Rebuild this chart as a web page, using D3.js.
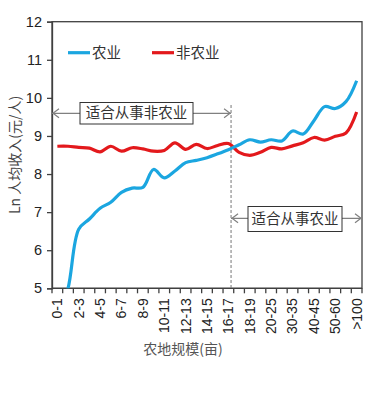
<!DOCTYPE html>
<html><head><meta charset="utf-8">
<script src="https://cdn.jsdelivr.net/npm/d3@7"></script>
<style>html,body{margin:0;padding:0;background:#fff}</style>
</head><body>
<svg id="c" width="383" height="396"></svg>
<script>
const categories = ["0-1","1-2","2-3","3-4","4-5","5-6","6-7","7-8","8-9","9-10","10-11","11-12","12-13","13-14","14-15","15-16","16-17","17-18","18-19","19-20","20-25","25-30","30-35","35-40","40-45","45-50","50-60","60-100",">100"];
const tickLabels = ["0-1","2-3","4-5","6-7","8-9","10-11","12-13","14-15","16-17","18-19","20-25","30-35","40-45","50-60",">100"];
const agri =    [4.2,5.0,6.55,6.82,7.1,7.26,7.52,7.63,7.65,8.12,7.9,8.08,8.3,8.36,8.43,8.53,8.64,8.77,8.9,8.84,8.9,8.87,9.13,9.05,9.4,9.77,9.72,9.9,10.45];
const nonAgri = [8.73,8.73,8.7,8.68,8.58,8.73,8.6,8.69,8.66,8.6,8.62,8.82,8.65,8.78,8.67,8.75,8.8,8.57,8.49,8.57,8.7,8.66,8.74,8.82,8.96,8.89,8.99,9.08,9.63];
const yTicks = [5,6,7,8,9,10,11,12];
const seriesNames = ["农业","非农业"];

const svg = d3.select("#c");
const L=52, R=362, T=21.7, B=288.3;
const x = d3.scaleBand().domain(categories).range([L,R]).padding(0);
const y = d3.scaleLinear().domain([5,12]).range([B,T]);
const axisCol="#404040", font="'Liberation Sans', Arial, sans-serif", cjk="'Noto Sans CJK SC', sans-serif";

svg.append("clipPath").attr("id","clip").append("rect").attr("x",L).attr("y",T).attr("width",R-L).attr("height",B-T);

// frame
svg.append("rect").attr("x",L).attr("y",T).attr("width",R-L).attr("height",B-T).attr("fill","none").attr("stroke",axisCol).attr("stroke-width",1.3);

// y axis
const ya = svg.append("g").attr("transform",`translate(${L},0)`).call(d3.axisLeft(y).tickValues(yTicks).tickSize(5).tickPadding(5).tickFormat(d3.format("d")));
ya.select(".domain").attr("stroke",axisCol).attr("stroke-width",1.3);
ya.selectAll(".tick line").attr("stroke",axisCol).attr("stroke-width",1.3);
ya.selectAll(".tick text").attr("font-family",font).attr("font-size",14.5).attr("fill","#222");

// x axis: ticks at band boundaries
const xa = svg.append("g").attr("transform",`translate(0,${B})`);
xa.append("line").attr("x1",L).attr("x2",R).attr("stroke",axisCol).attr("stroke-width",1.3);
xa.selectAll("line.t").data(d3.range(categories.length+1)).join("line").attr("class","t")
  .attr("x1",i=>L+i*x.bandwidth()).attr("x2",i=>L+i*x.bandwidth()).attr("y1",0).attr("y2",5)
  .attr("stroke",axisCol).attr("stroke-width",1.3);
xa.selectAll("text").data(tickLabels).join("text")
  .attr("transform",d=>`translate(${x(d)+x.bandwidth()/2},10) rotate(-90)`)
  .attr("text-anchor","end").attr("dy","0.35em")
  .attr("font-family",font).attr("font-size",14).attr("fill","#222").text(d=>d);

// dashed divider
const divX = x("16-17")+x.bandwidth()*0.75;
svg.append("line").attr("x1",divX).attr("x2",divX).attr("y1",105).attr("y2",B)
  .attr("stroke","#777").attr("stroke-width",1).attr("stroke-dasharray","3,2");

// lines
const line = d3.line().x((d,i)=>x(categories[i])+x.bandwidth()/2).y(d=>y(d)).curve(d3.curveCatmullRom.alpha(0.5));
const g = svg.append("g").attr("clip-path","url(#clip)");
g.append("path").datum(nonAgri).attr("d",line).attr("fill","none").attr("stroke","#E3191C").attr("stroke-width",3.2).attr("stroke-linejoin","round");
g.append("path").datum(agri).attr("d",line).attr("fill","none").attr("stroke","#1BA6E0").attr("stroke-width",3.2).attr("stroke-linejoin","round");

// legend
const leg = [{n:seriesNames[0],c:"#1BA6E0",x:68},{n:seriesNames[1],c:"#E3191C",x:152}];
leg.forEach(l=>{
  svg.append("line").attr("x1",l.x).attr("x2",l.x+22).attr("y1",52.7).attr("y2",52.7).attr("stroke",l.c).attr("stroke-width",3.2);
  svg.append("text").attr("x",l.x+24).attr("y",52.7).attr("dy","0.36em").attr("font-family",cjk).attr("font-size",14.5).attr("fill","#333").text(l.n);
});

// annotations
function arrow(x1,x2,yy,headLeft,headRight){
  const c="#808080";
  svg.append("line").attr("x1",x1).attr("x2",x2).attr("y1",yy).attr("y2",yy).attr("stroke",c).attr("stroke-width",1.2);
  if(headLeft) svg.append("path").attr("d",`M${x1+7},${yy-4.5}L${x1+1},${yy}L${x1+7},${yy+4.5}`).attr("fill","none").attr("stroke",c).attr("stroke-width",1.2);
  if(headRight) svg.append("path").attr("d",`M${x2-7},${yy-4.5}L${x2-1},${yy}L${x2-7},${yy+4.5}`).attr("fill","none").attr("stroke",c).attr("stroke-width",1.2);
}
function box(x0,x1,y0,y1,txt){
  svg.append("rect").attr("x",x0).attr("y",y0).attr("width",x1-x0).attr("height",y1-y0).attr("fill","#fff").attr("stroke","#333").attr("stroke-width",1);
  svg.append("text").attr("x",(x0+x1)/2).attr("y",(y0+y1)/2).attr("dy","0.36em").attr("text-anchor","middle")
    .attr("font-family",cjk).attr("font-size",14.5).attr("fill","#333").text(txt);
}
arrow(L,divX,113.3,true,true);
box(80,193,102.5,124,"适合从事非农业");
arrow(divX,R,218.3,true,true);
box(248,342,206.5,231.5,"适合从事农业");

// axis titles
svg.append("text").attr("transform",`translate(15,${(T+B)/2}) rotate(-90)`).attr("text-anchor","middle").attr("dy","0.36em")
  .attr("font-family",cjk).attr("font-size",14).attr("fill","#444").text("Ln 人均收入(元/人)");
svg.append("text").attr("x",183).attr("y",349).attr("dy","0.36em").attr("text-anchor","middle")
  .attr("font-family",cjk).attr("font-size",14).attr("fill","#555").text("农地规模(亩)");
</script>
</body></html>
